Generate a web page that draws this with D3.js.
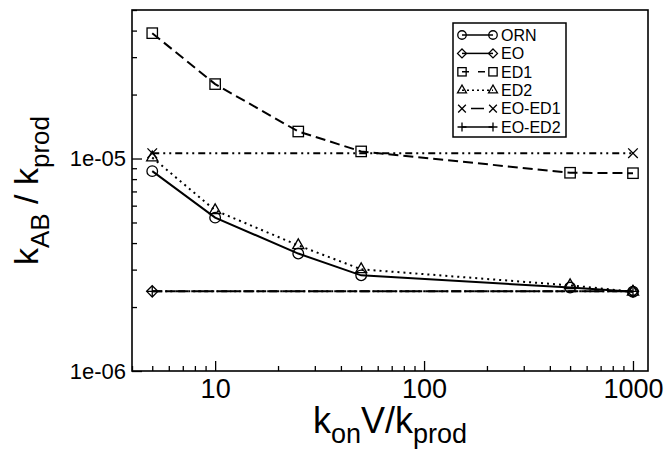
<!DOCTYPE html>
<html>
<head>
<meta charset="utf-8">
<script src="https://cdn.jsdelivr.net/npm/d3@7"></script>
<style>
  body { margin: 0; background: #fff; }
  svg text { font-family: "Liberation Sans", Arial, sans-serif; fill: #000; }
</style>
</head>
<body>
<div id="chart"></div>
<script>
// values
const konAll = [5, 10, 25, 50, 500, 1000];
const konEnds = [5, 1000];
const orn = [8.72e-6, 5.27e-6, 3.57e-6, 2.82e-6, 2.47e-6, 2.36e-6];
const ed1 = [3.89e-5, 2.24e-5, 1.34e-5, 1.08e-5, 8.57e-6, 8.53e-6];
const ed2 = [1.01e-5, 5.70e-6, 3.90e-6, 3.01e-6, 2.53e-6, 2.36e-6];
const eo = [2.37e-6, 2.37e-6];
const eoEd1 = [1.06e-5, 1.06e-5];
const eoEd2 = [2.37e-6, 2.37e-6];
const xTicks = [10, 100, 1000];
const yTicks = [1e-6, 1e-5];
const yTickLabels = ["1e-06", "1e-05"];

const series = [
    {name: "ORN", xs: konAll, ys: orn, dash: null, legDash: null, marker: "circle"},
    {name: "EO", xs: konEnds, ys: eo, dash: "10,3", legDash: null, marker: "diamond"},
    {name: "ED1", xs: konAll, ys: ed1, dash: "10,5", legDash: "7,9", marker: "square"},
    {name: "ED2", xs: konAll, ys: ed2, dash: "2,4", legDash: "2,3", marker: "triangle"},
    {name: "EO-ED1", xs: konEnds, ys: eoEd1, dash: "7,4,2,4,2,4", legDash: "0,9,13,20", marker: "x"},
    {name: "EO-ED2", xs: konEnds, ys: eoEd2, dash: "10,3,2,3,2,3", legDash: null, marker: "plus"}
];

const W = 668, H = 452;
const margin = {top: 10, right: 20, bottom: 81, left: 132};
const width = W - margin.left - margin.right,
      height = H - margin.top - margin.bottom;

const svg = d3.select("#chart").append("svg")
    .attr("width", W).attr("height", H);
const g = svg.append("g").attr("transform", `translate(${margin.left},${margin.top})`);

const x = d3.scaleLog().domain([4, 1180]).range([0, width]);
const y = d3.scaleLog().domain([1e-6, 5e-5]).range([height, 0]);

// minor ticks
const xMinor = [];
[1, 10, 100].forEach(d => { for (let k = 2; k <= 9; k++) xMinor.push(d * k); });
const yMinor = [];
[1e-6, 1e-5].forEach(d => { for (let k = 2; k <= 9; k++) yMinor.push(d * k); });

g.append("g").attr("transform", `translate(0,${height})`)
    .call(d3.axisBottom(x).tickValues(xMinor.filter(v => v >= 4 && v <= 1180)).tickSizeInner(-5).tickSizeOuter(0).tickFormat(""));
g.append("g").attr("transform", `translate(0,${height})`)
    .call(d3.axisBottom(x).tickValues(xTicks).tickSizeInner(-10).tickSizeOuter(0).tickPadding(8).tickFormat(d3.format("d")))
    .selectAll("text").style("font-size", "27px");
g.append("g")
    .call(d3.axisLeft(y).tickValues(yMinor.filter(v => v <= 5e-5)).tickSizeInner(-5).tickSizeOuter(0).tickFormat(""));
g.append("g")
    .call(d3.axisLeft(y).tickValues(yTicks).tickSizeInner(-10).tickSizeOuter(0).tickPadding(6)
        .tickFormat((d, i) => yTickLabels[i]))
    .selectAll("text").style("font-size", "22px");

g.selectAll(".domain").remove();
g.selectAll(".tick line").attr("stroke", "#000").attr("stroke-width", 1.3);

g.append("rect").attr("width", width).attr("height", height)
    .attr("fill", "none").attr("stroke", "#000").attr("stroke-width", 1.6);

function drawMarker(sel, type, cx, cy, k) {
    const s = sel.append("g").attr("transform", `translate(${cx},${cy}) scale(${k})`)
        .attr("fill", "none").attr("stroke", "#000").attr("stroke-width", 1.3 / k);
    if (type === "circle") s.append("circle").attr("r", 5.3);
    else if (type === "square") s.append("rect").attr("x", -5.2).attr("y", -5.2).attr("width", 10.4).attr("height", 10.4);
    else if (type === "diamond") s.append("path").attr("d", "M0,-5.6L5.6,0L0,5.6L-5.6,0Z");
    else if (type === "triangle") s.append("path").attr("d", "M0,-6.5L5.6,3.3L-5.6,3.3Z");
    else if (type === "x") s.append("path").attr("d", "M-4.8,-4.8L4.8,4.8M-4.8,4.8L4.8,-4.8");
    else if (type === "plus") s.append("path").attr("d", "M-5.6,0L5.6,0M0,-5.6L0,5.6");
}

const line = d3.line().x(d => x(d[0])).y(d => y(d[1]));

series.forEach(s => {
    const pts = s.xs.map((v, i) => [v, s.ys[i]]);
    g.append("path").datum(pts)
        .attr("fill", "none").attr("stroke", "#000").attr("stroke-width", 2)
        .attr("stroke-dasharray", s.dash)
        .attr("d", line);
    pts.forEach(p => drawMarker(g, s.marker, x(p[0]), y(p[1]), 1));
});

// legend
const lg = svg.append("g").attr("transform", "translate(453,23)");
lg.append("rect").attr("width", 113).attr("height", 114)
    .attr("fill", "#fff").attr("stroke", "#000").attr("stroke-width", 1.5);
series.forEach((s, i) => {
    const cy = 12 + i * 18.4;
    lg.append("line").attr("x1", 9).attr("x2", 40).attr("y1", cy).attr("y2", cy)
        .attr("stroke", "#000").attr("stroke-width", 1.5)
        .attr("stroke-dasharray", s.legDash);
    drawMarker(lg, s.marker, 9, cy, 0.8);
    drawMarker(lg, s.marker, 40, cy, 0.8);
    lg.append("text").attr("x", 48).attr("y", cy + 5.8)
        .style("font-size", "16px").text(s.name);
});

// axis titles
const xt = svg.append("text")
    .attr("x", margin.left + width / 2).attr("y", 433)
    .attr("text-anchor", "middle").style("font-size", "36px");
xt.append("tspan").text("k");
xt.append("tspan").attr("dy", 10).style("font-size", "27px").text("on");
xt.append("tspan").attr("dy", -10).text("V/k");
xt.append("tspan").attr("dy", 10).style("font-size", "27px").text("prod");

const yt = svg.append("text")
    .attr("transform", `translate(38,${margin.top + height / 2}) rotate(-90)`)
    .attr("text-anchor", "middle").style("font-size", "34px");
yt.append("tspan").text("k");
yt.append("tspan").attr("dy", 11).style("font-size", "26px").text("AB");
yt.append("tspan").attr("dy", -11).text(" / k");
yt.append("tspan").attr("dy", 11).style("font-size", "26px").text("prod");
</script>
</body>
</html>
